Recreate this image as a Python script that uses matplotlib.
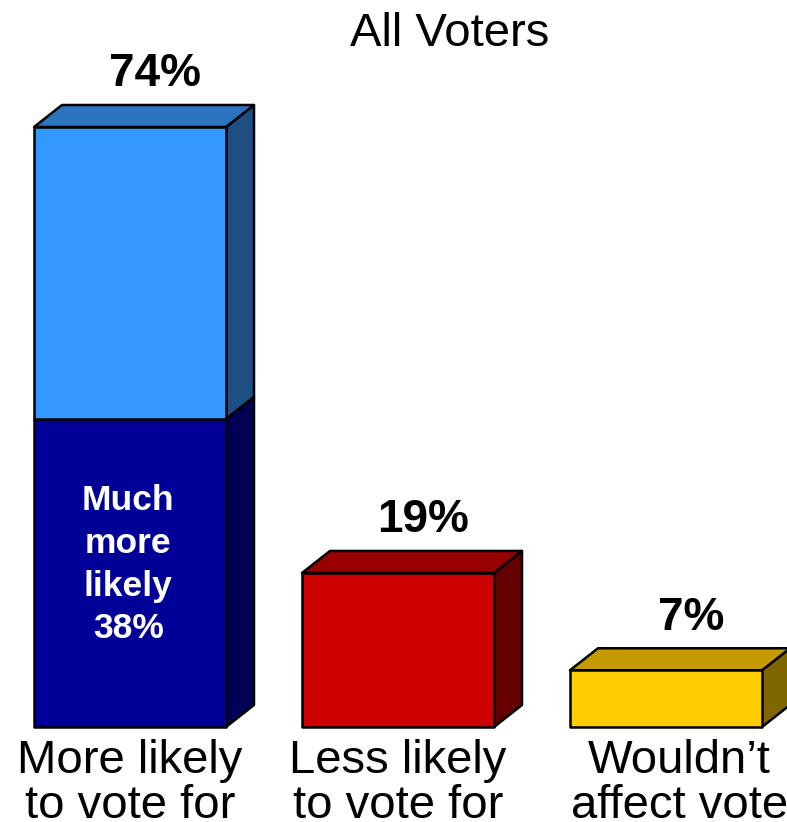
import matplotlib
matplotlib.use('Agg')
import matplotlib.pyplot as plt
from matplotlib.patches import Polygon

plt.rcParams['font.family'] = ['Liberation Sans', 'DejaVu Sans']

# data
categories = ["More likely\nto vote for", "Less likely\nto vote for", "Wouldn\u2019t\naffect vote"]
totals = [74, 19, 7]
much_more = 38
much_label = "Much\nmore\nlikely\n38%"
title = "All Voters"

# colours: (front, top, side)
bar_colors = [("#3399FF", "#2A74C0", "#1D4F82"),
              ("#CC0000", "#990000", "#660000"),
              ("#FFCC00", "#C49A00", "#806600")]
much_colors = ("#000099", "#000077", "#000055")

W, H = 787, 822
px_per_pct = 600 / 74.0
base_px = 727
spacing_px = 268.0
first_center_px = 130.0

fig = plt.figure(figsize=(W / 100, H / 100), dpi=100)
ax = fig.add_axes([0, 0, 1, 1])
ax.set_xlim(-first_center_px / spacing_px, (W - first_center_px) / spacing_px)
ax.set_ylim(-(H - base_px) / px_per_pct, base_px / px_per_pct)
ax.axis('off')

width = 192 / spacing_px
dx = 28 / spacing_px
dy = 22 / px_per_pct
lw = 1.8
label_shift = [0.0, 0.0, 0.05]


def box(x0, x1, y0, y1, cols, top=True):
    front, topc, side = cols
    ax.add_patch(Polygon([(x1, y0), (x1 + dx, y0 + dy), (x1 + dx, y1 + dy), (x1, y1)],
                         closed=True, facecolor=side, edgecolor='black', lw=lw, joinstyle='round'))
    if top:
        ax.add_patch(Polygon([(x0, y1), (x1, y1), (x1 + dx, y1 + dy), (x0 + dx, y1 + dy)],
                             closed=True, facecolor=topc, edgecolor='black', lw=lw, joinstyle='round'))
    ax.add_patch(Polygon([(x0, y0), (x1, y0), (x1, y1), (x0, y1)],
                         closed=True, facecolor=front, edgecolor='black', lw=lw, joinstyle='round'))


for i, (val, cols) in enumerate(zip(totals, bar_colors)):
    x0, x1 = i - width / 2, i + width / 2
    if i == 0:
        box(x0, x1, 0, much_more, much_colors, top=False)
        box(x0, x1, much_more, val, cols)
    else:
        box(x0, x1, 0, val, cols)
    ax.text(i + 0.095, val + 5, f"{val}%", ha='center', va='baseline',
            fontsize=33, fontweight='bold', color='black')
    ax.text(i + label_shift[i], -1.45, categories[i], ha='center', va='top', fontsize=34,
            linespacing=1.03, color='black')

ax.text(-0.007, much_more / 2 + 1.0, much_label, ha='center', va='center',
        fontsize=25.5, fontweight='bold', color='white', linespacing=1.37)

ax.text((450 - first_center_px) / spacing_px, (base_px - 46) / px_per_pct, title,
        ha='center', va='baseline', fontsize=34, color='black')

fig.savefig('out.png', dpi=100)
